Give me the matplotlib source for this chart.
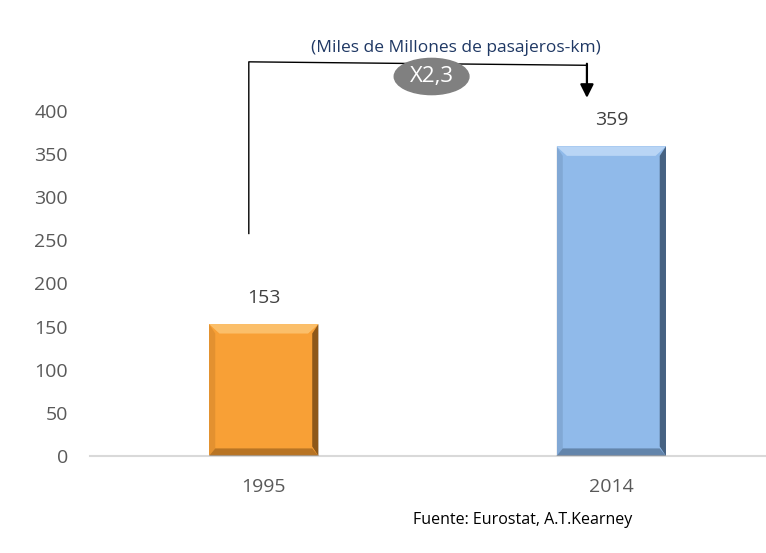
import matplotlib
matplotlib.use("Agg")
import matplotlib.pyplot as plt
from matplotlib.patches import Ellipse, Polygon

# data
years = ["1995", "2014"]
values = [153, 359]
bar_colors = ["#F8A036", "#90BAEA"]
dark_colors = ["#6B4010", "#2E4560"]
light_colors = ["#FDC878", "#C4DDF8"]
y_ticks = [0, 50, 100, 150, 200, 250, 300, 350, 400]
ratio_label = "X2,3"
title = "(Miles de Millones de pasajeros-km)"
source = "Fuente: Eurostat, A.T.Kearney"

plt.rcParams["font.family"] = ["Open Sans", "DejaVu Sans"]

fig = plt.figure(figsize=(7.66, 5.53), dpi=100)
ax = fig.add_axes([90 / 766, 1 - 456 / 553, 695 / 766, 450 * 0.8625 / 553])

xs = list(range(len(values)))
bw = 0.315
ax.bar(xs, values, width=bw, color=bar_colors, zorder=2)

# rough bevel look on each bar
bx = 0.03
by = 11
for x, v, dc, lc in zip(xs, values, dark_colors, light_colors):
    l, r = x - bw / 2, x + bw / 2
    ax.add_patch(Polygon([(l, v), (r, v), (r - bx, v - by), (l + bx, v - by)],
                         closed=True, color=lc, alpha=0.8, lw=0, zorder=3))
    ax.add_patch(Polygon([(r, v), (r, 0), (r - bx * 0.6, by), (r - bx * 0.6, v - by)],
                         closed=True, color=dc, alpha=0.75, lw=0, zorder=3))
    ax.add_patch(Polygon([(l, 0), (r, 0), (r - bx * 0.6, by * 0.8), (l + bx * 0.6, by * 0.8)],
                         closed=True, color=dc, alpha=0.45, lw=0, zorder=3))
    ax.add_patch(Polygon([(l, v), (l, 0), (l + bx * 0.6, by * 0.8), (l + bx * 0.6, v - by)],
                         closed=True, color=dc, alpha=0.15, lw=0, zorder=3))
    ax.annotate(str(v), (x, v), xytext=(0, 19), textcoords="offset points",
                ha="center", va="center", fontsize=14, color="#404040")

ax.set_xlim(-0.5, 1.5)
ax.set_ylim(0, 450)
ax.set_yticks(y_ticks)
ax.set_xticks(xs)
ax.set_xticklabels(years)
ax.tick_params(axis="y", length=0, pad=16, labelsize=14, labelcolor="#595959")
ax.tick_params(axis="x", length=0, pad=16, labelsize=14, labelcolor="#595959")
for s in ["top", "right", "left"]:
    ax.spines[s].set_visible(False)
ax.spines["bottom"].set_color("#D9D9D9")
ax.spines["bottom"].set_linewidth(1.5)

# growth bracket
left_x, right_x = -0.043, 0.93
ax.plot([left_x, left_x, right_x], [258, 457, 453], color="black", lw=1, clip_on=False)
ax.annotate("", xy=(right_x, 412), xytext=(right_x, 458),
            arrowprops=dict(arrowstyle="-|>", color="black", lw=1.6, mutation_scale=20),
            annotation_clip=False)
ax.add_patch(Ellipse((0.483, 440), 0.215, 42, color="#808080", clip_on=False, zorder=4))
ax.text(0.483, 440, ratio_label, ha="center", va="center", fontsize=16, color="white", zorder=5)

fig.text(456 / 766, 1 - 48 / 553, title, ha="center", va="center", fontsize=12.5, color="#1F3864")
fig.text(523 / 766, 1 - 520 / 553, source, ha="center", va="center", fontsize=11.5, color="black")

fig.savefig("out.png", dpi=100)
